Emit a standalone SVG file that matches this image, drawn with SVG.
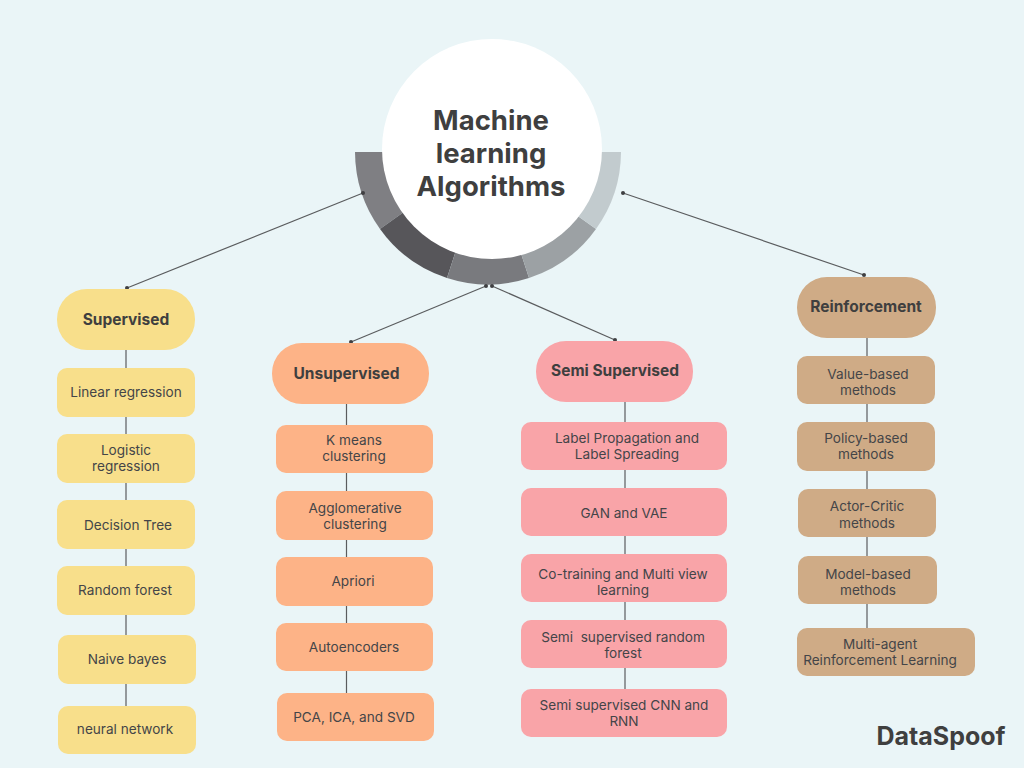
<svg xmlns="http://www.w3.org/2000/svg" width="1024" height="768" viewBox="0 0 1024 768">
<style>
text{font-family:Inter,"Noto Sans","Liberation Sans",sans-serif;fill:#444548;text-anchor:middle}
.t{font-size:13.6px}
.h{font-size:15.5px;font-weight:700;fill:#3f3f3f}
.m{font-size:27.5px;font-weight:700;fill:#3f3f3f}
.y{fill:#f8df8b}.o{fill:#fdb387}.p{fill:#f9a4a8}.b{fill:#cfab86}
.c line{stroke:#5a5c5e;stroke-width:1.2}
.c circle{fill:#3f3f42}
</style>
<rect width="1024" height="768" fill="#eaf5f7"/>
<g id="ring">
<path d="M355 152A133 133 0 0 0 380 229L488 152Z" fill="#7f7f83"/>
<path d="M380 229A133 133 0 0 0 447 278L488 152Z" fill="#57565a"/>
<path d="M447 278A133 133 0 0 0 529 278L488 152Z" fill="#797a7e"/>
<path d="M529 278A133 133 0 0 0 596 229L488 152Z" fill="#9ca1a4"/>
<path d="M596 229A133 133 0 0 0 621 152L488 152Z" fill="#c2cbce"/>
</g>
<g class="c" id="connectors">
<line x1="363" y1="193" x2="127" y2="288"/><circle cx="363" cy="193" r="2"/><circle cx="127" cy="288" r="2"/>
<line x1="486" y1="286" x2="351" y2="342"/><circle cx="486" cy="286" r="2"/><circle cx="351" cy="342" r="2"/>
<line x1="492" y1="286" x2="615" y2="340"/><circle cx="492" cy="286" r="2"/><circle cx="615" cy="340" r="2"/>
<line x1="623" y1="193" x2="864" y2="275"/><circle cx="623" cy="193" r="2"/><circle cx="864" cy="275" r="2"/>
<line x1="126" y1="350" x2="126" y2="706"/>
<line x1="346.500" y1="404" x2="346.500" y2="693"/>
<line x1="625" y1="402" x2="625" y2="689"/>
<line x1="867" y1="338" x2="867" y2="628"/>
</g>
<g id="root"><circle cx="492" cy="149" r="110" fill="#fff"/>
<text class="m" x="491" y="130">Machine</text>
<text class="m" x="491" y="163">learning</text>
<text class="m" x="491" y="196">Algorithms</text></g>

<g id="supervised"><rect class="y" x="57" y="289" width="138" height="61" rx="30"/><text class="h" x="126" y="325">Supervised</text></g>
<g id="s1"><rect class="y" x="57" y="368" width="138" height="49" rx="10"/><text class="t" x="126" y="397">Linear regression</text></g>
<g id="s2"><rect class="y" x="57" y="434" width="138" height="49" rx="10"/><text class="t" x="126" y="455">Logistic</text><text class="t" x="126" y="471">regression</text></g>
<g id="s3"><rect class="y" x="57" y="500" width="138" height="49" rx="10"/><text class="t" x="128" y="530">Decision Tree</text></g>
<g id="s4"><rect class="y" x="57" y="566" width="138" height="49" rx="10"/><text class="t" x="125" y="595">Random forest</text></g>
<g id="s5"><rect class="y" x="58" y="635" width="138" height="49" rx="10"/><text class="t" x="127" y="664">Naive bayes</text></g>
<g id="s6"><rect class="y" x="58" y="706" width="138" height="48" rx="10"/><text class="t" x="125" y="734">neural network</text></g>

<g id="unsupervised"><rect class="o" x="272" y="343" width="157" height="61" rx="30"/><text class="h" x="346.500" y="379">Unsupervised</text></g>
<g id="u1"><rect class="o" x="276" y="425" width="157" height="48" rx="10"/><text class="t" x="354" y="445">K means</text><text class="t" x="354" y="461">clustering</text></g>
<g id="u2"><rect class="o" x="276" y="491" width="157" height="49" rx="10"/><text class="t" x="355" y="513">Agglomerative</text><text class="t" x="355" y="529">clustering</text></g>
<g id="u3"><rect class="o" x="276" y="557" width="157" height="49" rx="10"/><text class="t" x="353" y="586">Apriori</text></g>
<g id="u4"><rect class="o" x="276" y="623" width="157" height="48" rx="10"/><text class="t" x="354" y="652">Autoencoders</text></g>
<g id="u5"><rect class="o" x="277" y="693" width="157" height="48" rx="10"/><text class="t" x="354" y="722">PCA, ICA, and SVD</text></g>

<g id="semi"><rect class="p" x="536" y="341" width="157" height="61" rx="30"/><text class="h" x="615" y="376">Semi Supervised</text></g>
<g id="p1"><rect class="p" x="521" y="422" width="206" height="48" rx="10"/><text class="t" x="627" y="443">Label Propagation and</text><text class="t" x="627" y="459">Label Spreading</text></g>
<g id="p2"><rect class="p" x="521" y="488" width="206" height="48" rx="10"/><text class="t" x="624" y="518">GAN and VAE</text></g>
<g id="p3"><rect class="p" x="521" y="554" width="206" height="48" rx="10"/><text class="t" x="623" y="579">Co-training and Multi view</text><text class="t" x="623" y="595">learning</text></g>
<g id="p4"><rect class="p" x="521" y="620" width="206" height="48" rx="10"/><text class="t" x="623" y="642" xml:space="preserve">Semi  supervised random</text><text class="t" x="623" y="658">forest</text></g>
<g id="p5"><rect class="p" x="521" y="689" width="206" height="48" rx="10"/><text class="t" x="624" y="710">Semi supervised CNN and</text><text class="t" x="624" y="726">RNN</text></g>

<g id="reinforcement"><rect class="b" x="797" y="277" width="139" height="61" rx="30"/><text class="h" x="866" y="312">Reinforcement</text></g>
<g id="r1"><rect class="b" x="797" y="356" width="138" height="48" rx="10"/><text class="t" x="868" y="379">Value-based</text><text class="t" x="868" y="395">methods</text></g>
<g id="r2"><rect class="b" x="797" y="422" width="138" height="49" rx="10"/><text class="t" x="866" y="443">Policy-based</text><text class="t" x="866" y="459">methods</text></g>
<g id="r3"><rect class="b" x="798" y="489" width="138" height="48" rx="10"/><text class="t" x="867" y="511">Actor-Critic</text><text class="t" x="867" y="528">methods</text></g>
<g id="r4"><rect class="b" x="798" y="556" width="139" height="48" rx="10"/><text class="t" x="868" y="579">Model-based</text><text class="t" x="868" y="595">methods</text></g>
<g id="r5"><rect class="b" x="797" y="628" width="178" height="48" rx="10"/><text class="t" x="880" y="649">Multi-agent</text><text class="t" x="880" y="665">Reinforcement Learning</text></g>

<text x="941" y="745" style="font-size:25px;font-weight:700;fill:#3f3f3f">DataSpoof</text>
</svg>
